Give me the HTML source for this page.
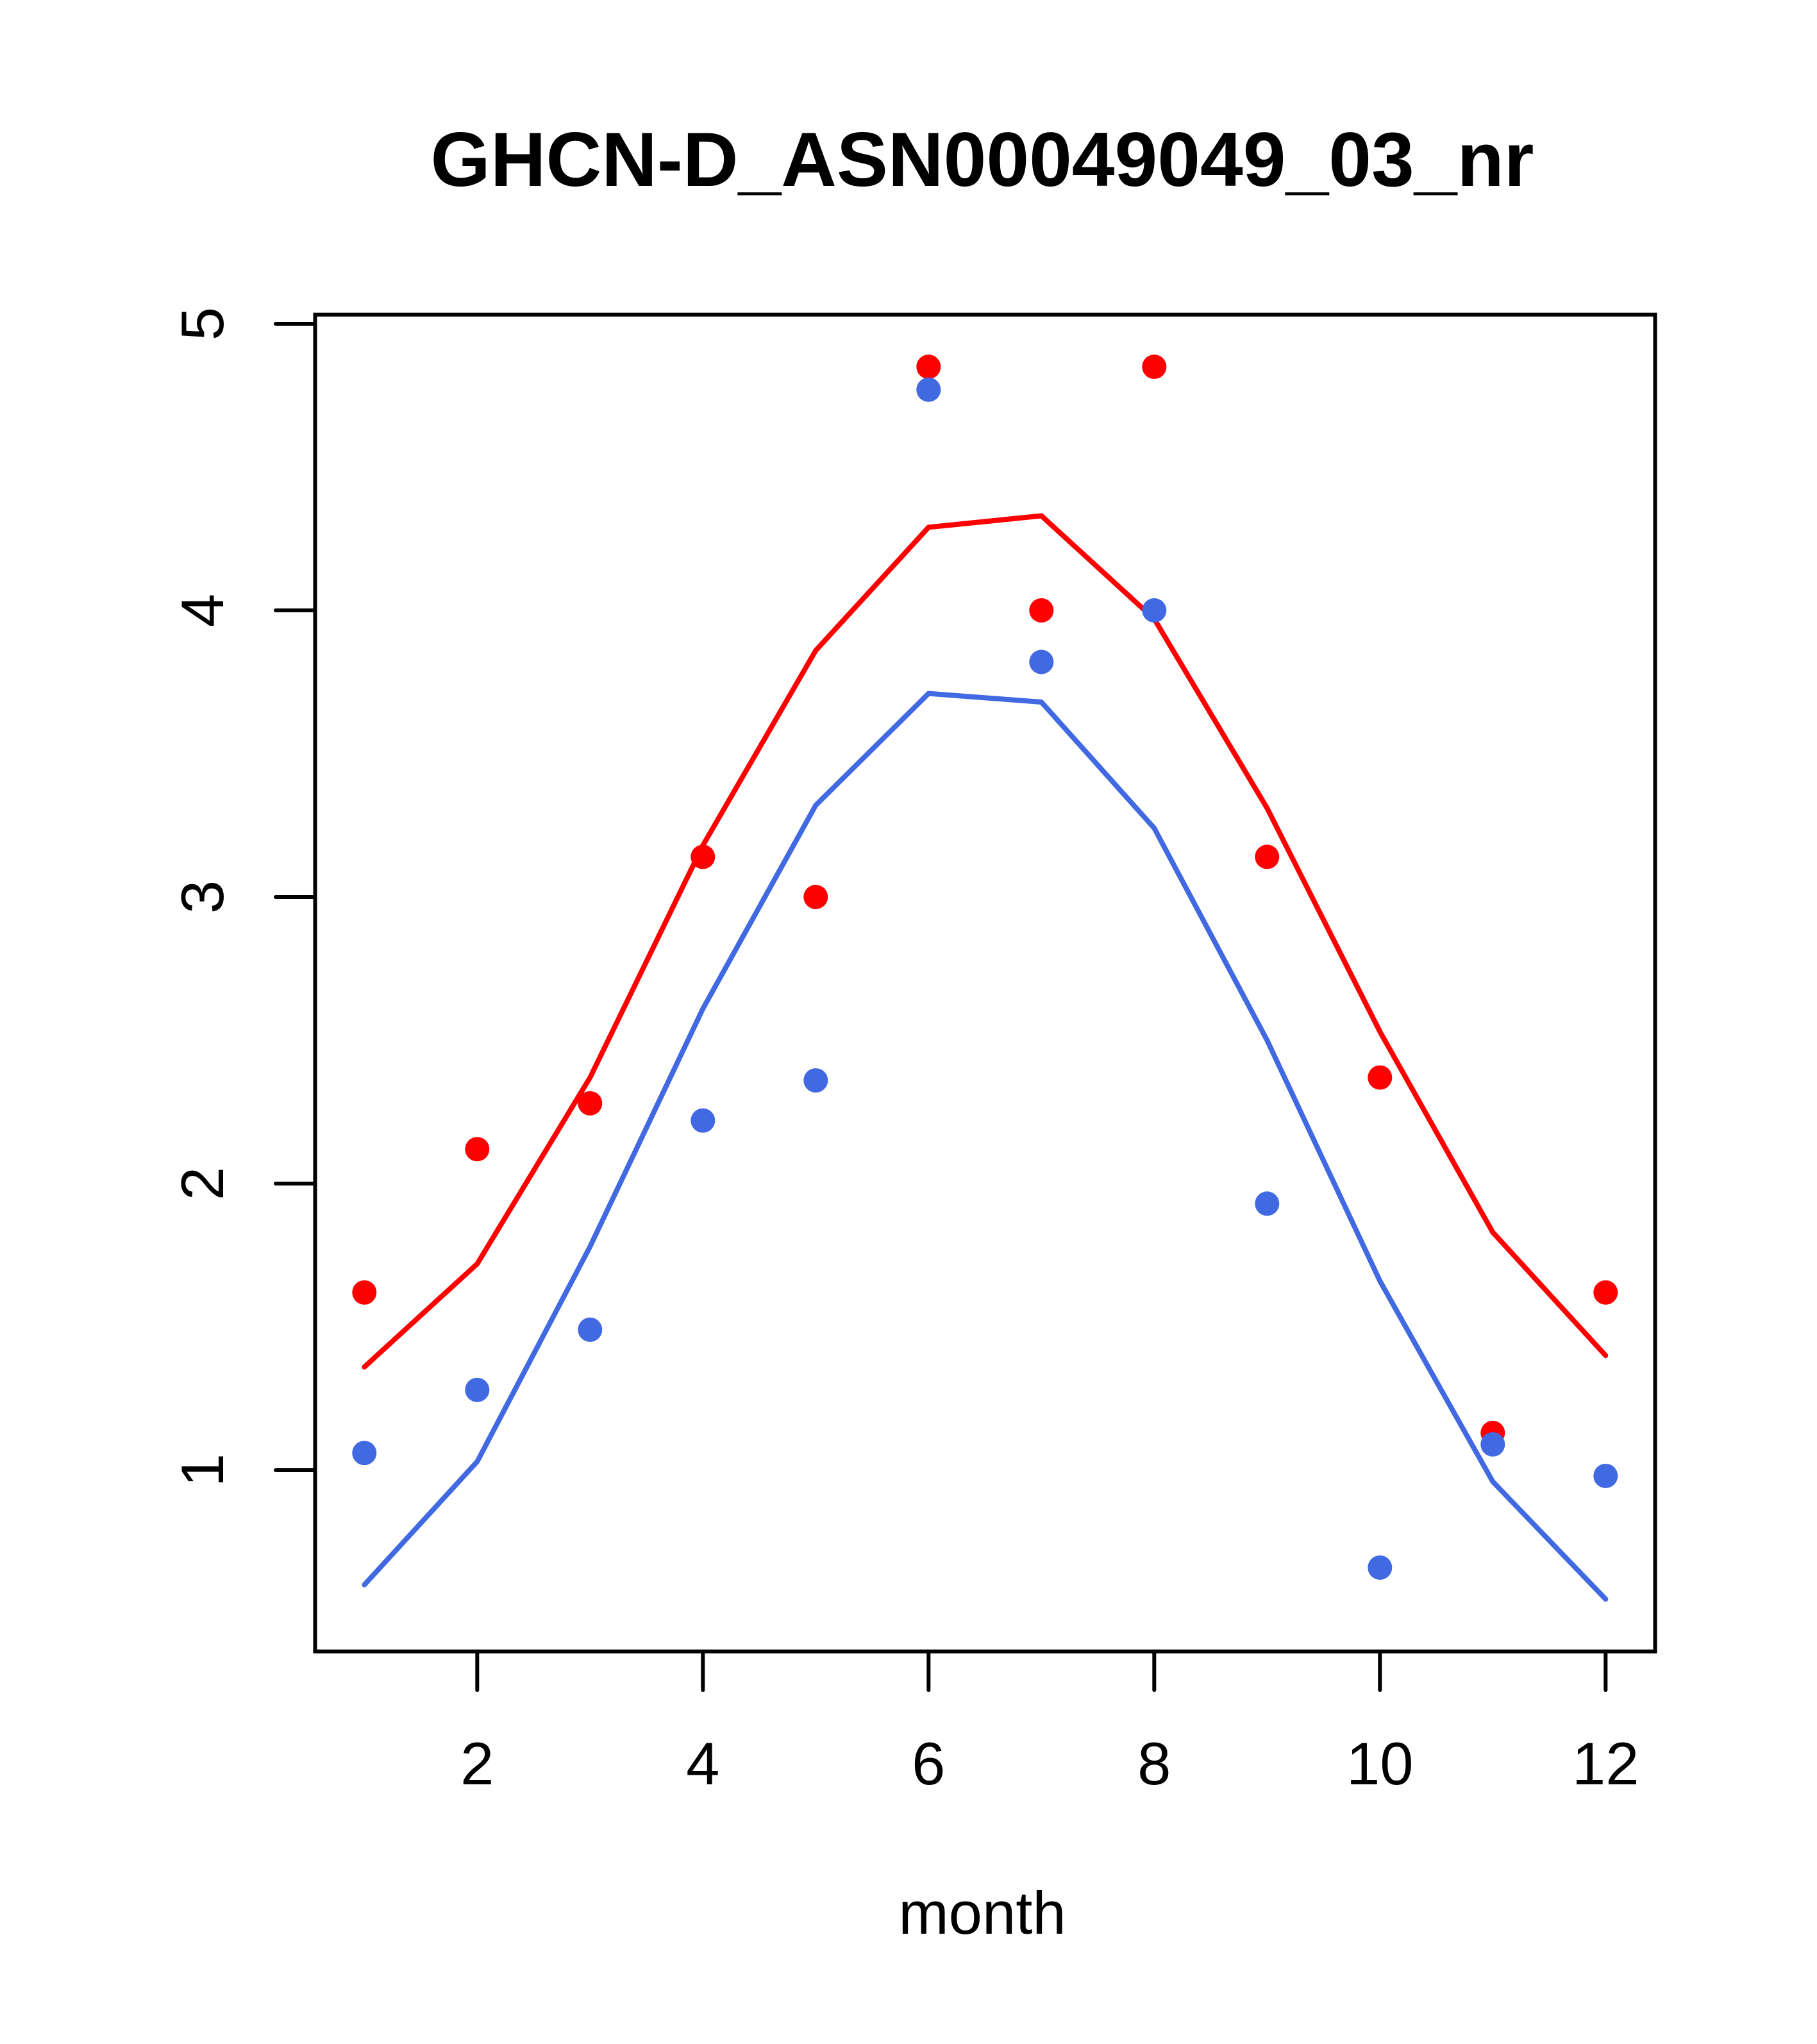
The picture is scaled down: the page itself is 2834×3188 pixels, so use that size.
<!DOCTYPE html>
<html><head><meta charset="utf-8"><style>html,body{margin:0;padding:0;background:#fff}svg{display:block}</style></head>
<body>
<svg id="chart" width="2834" height="3188" viewBox="0 0 2834 3188" xmlns="http://www.w3.org/2000/svg" font-family="Liberation Sans, Arial, sans-serif">
<rect width="2834" height="3188" fill="#fff"/>
<text x="1532" y="290" font-size="120" font-weight="bold" text-anchor="middle">GHCN-D_ASN00049049_03_nr</text>
<text x="1532" y="3016" font-size="94" text-anchor="middle">month</text>
<rect x="491.5" y="490.7" width="2090" height="2085" fill="none" stroke="#000" stroke-width="6"/>
<g id="axes"></g>
<g id="marks"></g>
</svg>
<script>
const months = [1,2,3,4,5,6,7,8,9,10,11,12];
const redPoints = [1.62,2.12,2.28,3.14,3.0,4.85,4.0,4.85,3.14,2.37,1.13,1.62];
const bluePoints = [1.06,1.28,1.49,2.22,2.36,4.77,3.82,4.0,1.93,0.66,1.09,0.98];
const redLine = [1.36,1.72,2.37,3.18,3.86,4.29,4.33,3.97,3.31,2.53,1.83,1.40];
const blueLine = [0.60,1.03,1.78,2.61,3.32,3.71,3.68,3.24,2.50,1.66,0.96,0.55];
const xTicks = [2,4,6,8,10,12];
const yTicks = [1,2,3,4,5];

const NS = "http://www.w3.org/2000/svg";
function xs(m){return 568.3 + (m-1)*176;}
function ys(v){return 505 + (5-v)*447;}
function mk(tag, attrs, parent){const e=document.createElementNS(NS,tag);for(const k in attrs)e.setAttribute(k,attrs[k]);parent.appendChild(e);return e;}
const axes=document.getElementById('axes'), marks=document.getElementById('marks');

xTicks.forEach(t=>{
  const l=mk('line',{x1:xs(t),x2:xs(t),y1:2575.7,y2:2636,stroke:'#000','stroke-width':6,'stroke-linecap':'round'},axes);
  
  
  const tx=mk('text',{x:xs(t),y:2783,'font-size':94,'text-anchor':'middle'},axes);
  tx.textContent=t;
  
  
});
yTicks.forEach(t=>{
  const l=mk('line',{x1:430,x2:491.5,y1:ys(t),y2:ys(t),stroke:'#000','stroke-width':6,'stroke-linecap':'round'},axes);
  
  
  const tx=mk('text',{x:0,y:0,'font-size':94,'text-anchor':'middle',transform:'translate(348,'+ys(t)+') rotate(-90)'},axes);
  tx.textContent=t;
  
  
});
function line(vals,color,name){
  const p=mk('polyline',{points:vals.map((v,i)=>xs(months[i])+','+ys(v)).join(' '),fill:'none',stroke:color,'stroke-width':8,'stroke-linecap':'round','stroke-linejoin':'round'},marks);
  
  
}
function pts(vals,color,name){
  vals.forEach((v,i)=>{
    const c=mk('circle',{cx:xs(months[i]),cy:ys(v),r:19,fill:color},marks);
    
    
  });
}
line(redLine,'#ff0000','red-line');
line(blueLine,'#4169e1','blue-line');
pts(redPoints,'#ff0000','red-point');
pts(bluePoints,'#4169e1','blue-point');
</script>
</body></html>
